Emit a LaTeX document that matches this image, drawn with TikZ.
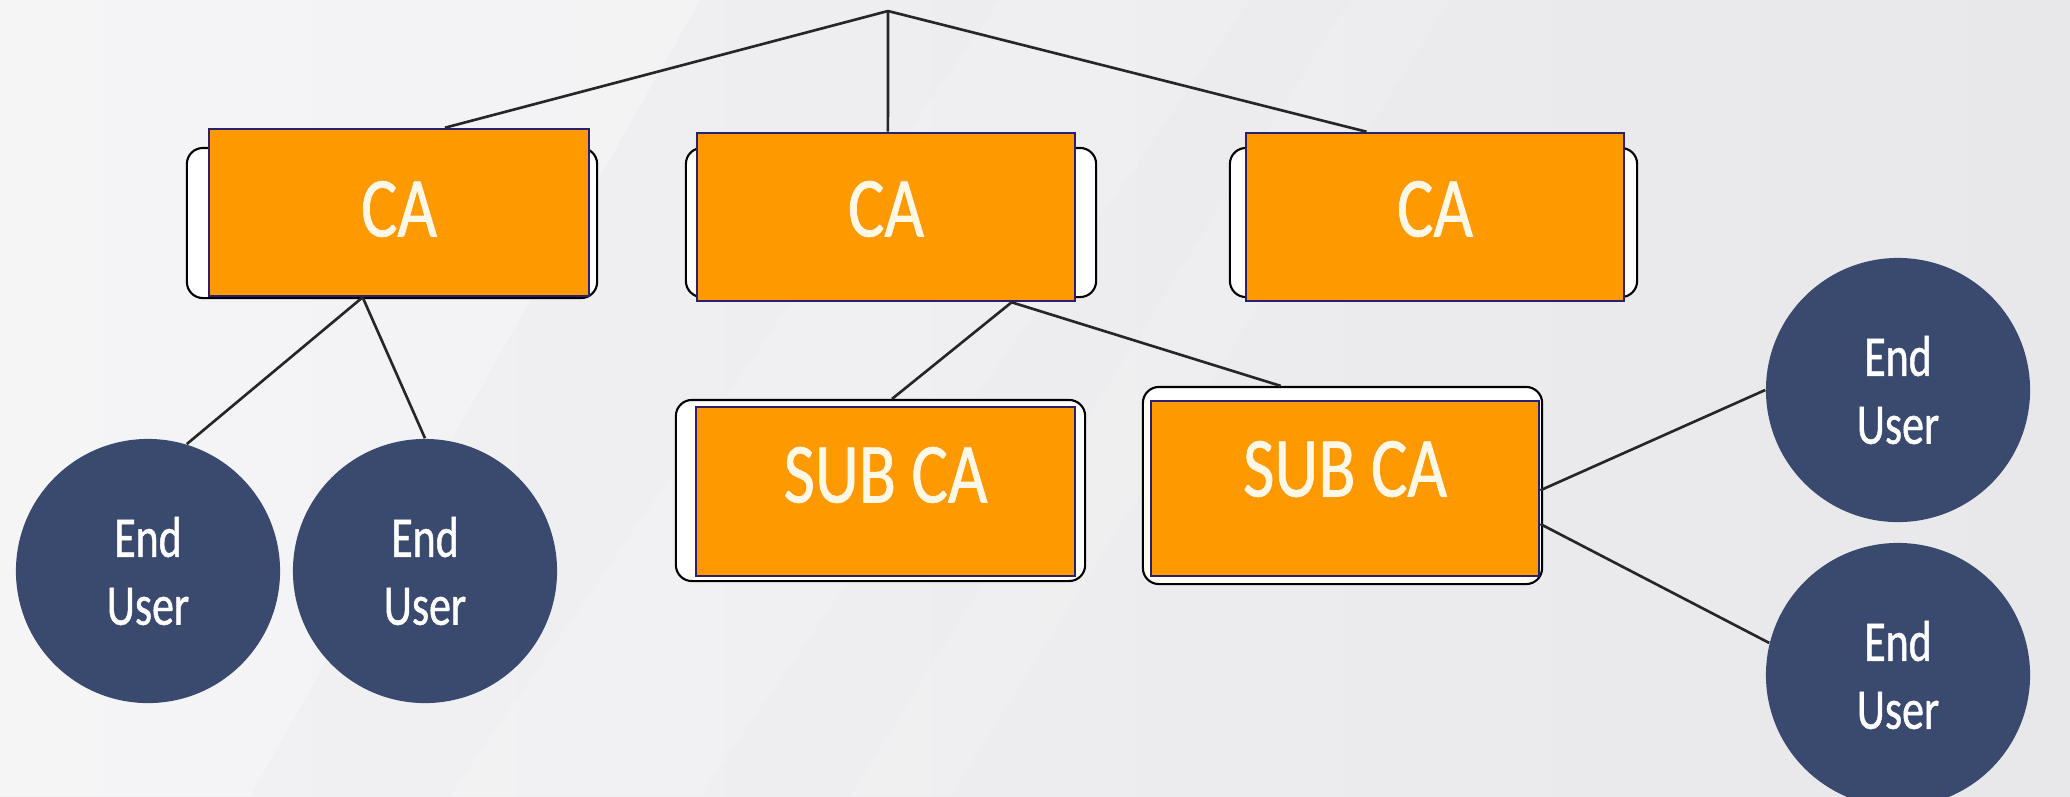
\documentclass[tikz,border=0pt]{standalone}
\usepackage{fontspec}
\newfontfamily\boxfont{Carlito}[FakeStretch=0.8,FakeBold=0.8]
\newfontfamily\eufont{Carlito}[FakeStretch=0.76,FakeBold=0.8]
\usetikzlibrary{calc}
\definecolor{caorange}{HTML}{FF9900}
\definecolor{eublue}{HTML}{3A4A6F}
\definecolor{edgeblue}{HTML}{2B2070}
\definecolor{bgleft}{HTML}{F2F2F4}
\definecolor{bgright}{HTML}{E8E8EB}
\definecolor{cream}{HTML}{FFF8E6}
\begin{document}
\begin{tikzpicture}[x=0.01cm,y=-0.01cm,
  frame/.style={draw=black, line width=0.6pt, fill=white, rounded corners=0.16cm, inner sep=0pt},
  orangebox/.style={draw=edgeblue, line width=0.7pt, fill=caorange, inner sep=0pt},
  boxtext/.style={text=cream, inner sep=0pt, font=\boxfont\fontsize{24.3}{29}\selectfont},
  enduser/.style={circle, fill=eublue, inner sep=0pt, text=white, align=center,
                  font=\eufont\fontsize{16.4}{19.3}\selectfont, minimum size=2.64cm},
  link/.style={draw=black!85, line width=0.75pt}]
% background
\useasboundingbox (0,0) rectangle (2070,796);
\shade[left color=bgleft, right color=bgright] (0,0) rectangle (2070,796);
\fill[white, opacity=0.25] (0,0) -- (700,0) -- (250,796) -- (0,796) -- cycle;
\fill[white, opacity=0.15] (1000,0) -- (1250,0) -- (700,796) -- (450,796) -- cycle;
\fill[white, opacity=0.12] (1350,0) -- (1450,0) -- (950,796) -- (850,796) -- cycle;

% CA boxes
\node[frame, minimum width=4.10cm, minimum height=1.50cm] (f1) at (392,223) {};
\node[orangebox, minimum width=3.80cm, minimum height=1.67cm] (ca1) at (399,212.5) {};
\node[boxtext] (t1) at (399,209) {CA};

\node[frame, minimum width=4.10cm, minimum height=1.49cm] (f2) at (891,222.5) {};
\node[orangebox, minimum width=3.78cm, minimum height=1.68cm] (ca2) at (886,217) {};
\node[boxtext] (t2) at (886,209) {CA};

\node[frame, minimum width=4.07cm, minimum height=1.49cm] (f3) at (1433.5,222.5) {};
\node[orangebox, minimum width=3.78cm, minimum height=1.68cm] (ca3) at (1435,217) {};
\node[boxtext] (t3) at (1435,209) {CA};

% SUB CA boxes
\node[frame, minimum width=4.09cm, minimum height=1.81cm] (f4) at (880.5,490.5) {};
\node[orangebox, minimum width=3.79cm, minimum height=1.69cm] (sub1) at (885.5,491.5) {};
\node[boxtext] (t4) at (885.5,475) {SUB CA};

\node[frame, minimum width=3.99cm, minimum height=1.97cm] (f5) at (1342.5,485.5) {};
\node[orangebox, minimum width=3.88cm, minimum height=1.75cm] (sub2) at (1345,488.5) {};
\node[boxtext] (t5) at (1345,469) {SUB CA};

% End users
\node[enduser] (eu1) at (148,571) {End\\User};
\node[enduser] (eu2) at (425,571) {End\\User};
\node[enduser] (eu3) at (1898,390) {End\\User};
\node[enduser] (eu4) at (1898,675) {End\\User};

% connectors
\coordinate (root) at (888,11);
\draw[link] (root) -- ($(ca1.north west)!0.62!(ca1.north east)$);
\draw[link] (root) -- ($(ca2.north west)!0.505!(ca2.north east)$);
\draw[link] (root) -- ($(ca3.north west)!0.32!(ca3.north east)$);
\draw[link] ($(ca1.south west)!0.405!(ca1.south east)$) -- (eu1.73);
\draw[link] ($(ca1.south west)!0.405!(ca1.south east)$) -- (eu2.north);
\draw[link] ($(ca2.south west)!0.83!(ca2.south east)$) -- ($(f4.north west)!0.528!(f4.north east)$);
\draw[link] ($(ca2.south west)!0.83!(ca2.south east)$) -- ($(f5.north west)!0.346!(f5.north east)$);
\draw[link] ($(sub2.north east)!0.51!(sub2.south east)$) -- (eu3.west);
\draw[link] ($(sub2.north east)!0.70!(sub2.south east)$) -- (eu4.166);
\end{tikzpicture}
\end{document}
